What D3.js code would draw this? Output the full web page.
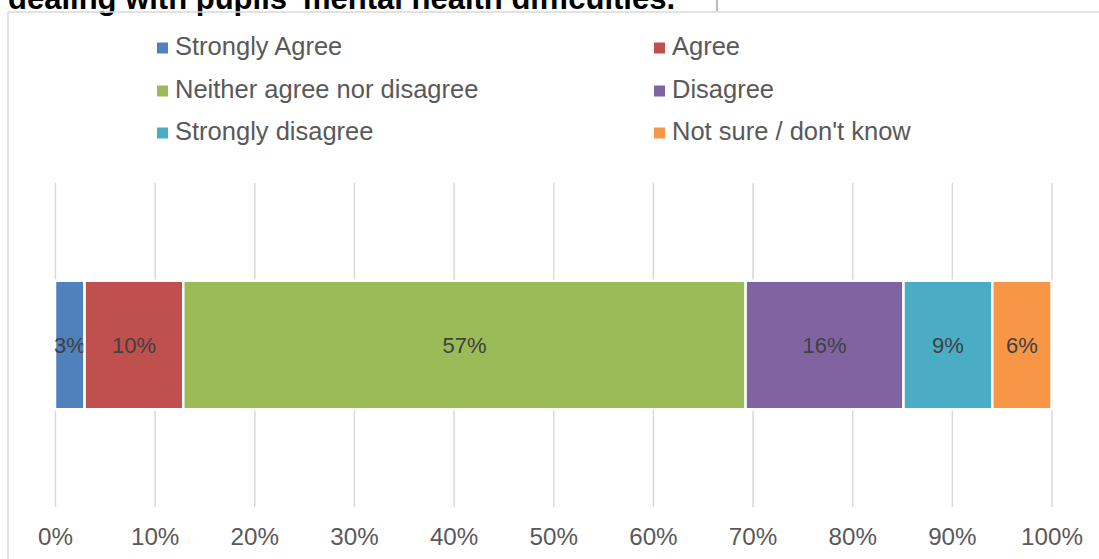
<!DOCTYPE html>
<html>
<head>
<meta charset="utf-8">
<script src="https://cdn.jsdelivr.net/npm/d3@7"></script>
<style>
  html, body { margin: 0; padding: 0; background: #fff; }
  svg { display: block; font-family: "Liberation Sans", Arial, sans-serif; }
</style>
</head>
<body>
<svg id="chart" width="1099" height="559"></svg>
<script>
// Survey responses (single 100% stacked bar)
const categories = ["Strongly Agree", "Agree", "Neither agree nor disagree", "Disagree", "Strongly disagree", "Not sure / don't know"];
const values = [3, 10, 57, 16, 9, 6];
const colors = ["#4F81BD", "#C0504D", "#9BBB59", "#8064A2", "#4BACC6", "#F79646"];
const tickValues = [0, 0.1, 0.2, 0.3, 0.4, 0.5, 0.6, 0.7, 0.8, 0.9, 1.0];
const titleText = "dealing with pupils' mental health difficulties.";
const rowLabel = ["Responses"];

const svg = d3.select("#chart");

// frame lines and the clipped heading above the chart
svg.append("text")
  .attr("x", 8).attr("y", 9)
  .attr("font-size", 31).attr("font-weight", "bold").attr("fill", "#000")
  .text(titleText);
svg.append("line").attr("x1", 717).attr("x2", 717).attr("y1", 0).attr("y2", 11)
  .attr("stroke", "#8c8c8c").attr("stroke-width", 1.2);
svg.append("line").attr("x1", 8).attr("x2", 1099).attr("y1", 12).attr("y2", 12)
  .attr("stroke", "#d9d9d9").attr("stroke-width", 1.5);
svg.append("line").attr("x1", 8).attr("x2", 8).attr("y1", 12).attr("y2", 559)
  .attr("stroke", "#d9d9d9").attr("stroke-width", 1.5);

// scales
const plotTop = 183, plotBottom = 507;
const x = d3.scaleLinear().domain([0, 1]).range([55, 1051.5]);
const y = d3.scaleBand().domain(rowLabel).range([plotTop, plotBottom]).padding(0.432);

// axis with gridlines
const axis = d3.axisBottom(x)
  .tickValues(tickValues)
  .tickFormat(d3.format(".0%"))
  .tickSizeInner(-(plotBottom - plotTop))
  .tickSizeOuter(0)
  .tickPadding(21);
const gAxis = svg.append("g").attr("transform", `translate(0,${plotBottom})`).call(axis);
gAxis.select(".domain").remove();
gAxis.selectAll(".tick line").attr("stroke", "#d9d9d9").attr("stroke-width", 1.5);
gAxis.selectAll(".tick text")
  .attr("font-size", 24.2).attr("fill", "#595959")
  .attr("font-family", "'Liberation Sans', Arial, sans-serif");

// stacked data (expanded to 100%)
const row = {};
categories.forEach((c, i) => row[c] = values[i]);
const series = d3.stack().keys(categories).offset(d3.stackOffsetExpand)([row]);

const segs = svg.append("g").selectAll("g")
  .data(series).join("g");

segs.append("rect")
  .attr("x", s => x(s[0][0]))
  .attr("width", s => x(s[0][1]) - x(s[0][0]))
  .attr("y", y(rowLabel[0]))
  .attr("height", y.bandwidth())
  .attr("fill", (s, i) => colors[i])
  .attr("stroke", "#fff").attr("stroke-width", 2.5);

segs.append("text")
  .attr("x", s => (x(s[0][0]) + x(s[0][1])) / 2)
  .attr("y", y(rowLabel[0]) + y.bandwidth() / 2 + 8)
  .attr("text-anchor", "middle")
  .attr("font-size", 22).attr("fill", "#404040")
  .text((s, i) => values[i] + "%");

// legend: two columns, filled row by row
const legend = svg.append("g");
const colX = [157, 654];
const rowY = [55, 98, 140];
categories.forEach((c, i) => {
  const cx = colX[i % 2], by = rowY[Math.floor(i / 2)];
  legend.append("rect")
    .attr("x", cx).attr("y", by - 12.5).attr("width", 11).attr("height", 11)
    .attr("fill", colors[i]);
  legend.append("text")
    .attr("x", cx + 18).attr("y", by)
    .attr("font-size", 25.5).attr("fill", "#595959")
    .text(c);
});
</script>
</body>
</html>
